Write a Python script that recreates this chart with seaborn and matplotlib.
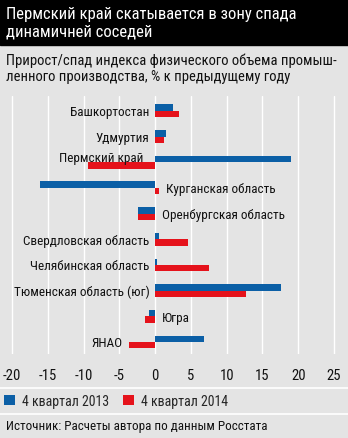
import matplotlib
matplotlib.use("Agg")
import matplotlib.pyplot as plt
from matplotlib import font_manager
import seaborn as sns
import pandas as pd

regions = ["Башкортостан", "Удмуртия", "Пермский край", "Курганская область",
           "Оренбургская область", "Свердловская область", "Челябинская область",
           "Тюменская область (юг)", "Югра", "ЯНАО"]
q4_2013 = [2.5, 1.5, 19.0, -16.1, -2.4, 0.5, 0.2, 17.6, -0.9, 6.8]
q4_2014 = [3.3, 1.2, -9.4, 0.5, -2.4, 4.6, 7.5, 12.7, -1.4, -3.6]
series_names = ["4 квартал 2013", "4 квартал 2014"]
x_ticks = [-20, -15, -10, -5, 0, 5, 10, 15, 20, 25]
title = "Пермский край скатывается в зону спада\nдинамичней соседей"
subtitle = "Прирост/спад индекса физического объема промыш-\nленного производства, % к предыдущему году"
source = "Источник: Расчеты автора по данным Росстата"

available = {f.name for f in font_manager.fontManager.ttflist}
narrow = None
for cand in ["Liberation Sans Narrow", "DejaVu Sans Condensed", "Roboto Condensed", "Open Sans Condensed"]:
    if cand in available:
        narrow = cand
        break
FAM = [narrow, "DejaVu Sans"] if narrow else ["DejaVu Sans"]

sns.set_style("white")
plt.rcParams["font.family"] = FAM

BG = "#e4e4e4"
BLUE = "#0b5fa6"
RED = "#e5121b"
W, H = 348, 439

df = pd.DataFrame({
    "region": regions * 2,
    "value": q4_2013 + q4_2014,
    "series": [series_names[0]] * len(regions) + [series_names[1]] * len(regions),
})

fig = plt.figure(figsize=(W / 100, H / 100), dpi=100, facecolor=BG)

def fx(px):
    return px / W

def fy(py):
    return 1 - py / H

# axes geometry
ax_top, ax_bot = 97, 355
ax = fig.add_axes([0, fy(ax_bot), 1, (ax_bot - ax_top) / H])
ax.set_facecolor(BG)

sns.barplot(data=df, y="region", x="value", hue="series", order=regions,
            hue_order=series_names, palette=[BLUE, RED], width=0.5,
            orient="h", ax=ax, saturation=1, edgecolor="none", errorbar=None)

ax.set_xlim(-21.68, 26.96)
ax.set_ylim(len(regions) - 0.53, -0.58)
for s in ax.spines.values():
    s.set_visible(False)
ax.set_xticks(x_ticks)
ax.set_xticklabels([str(t) for t in x_ticks])
ax.tick_params(axis="x", length=0, pad=10, labelsize=10.5, colors="#111111")
ax.set_yticks([])
ax.set_xlabel("")
ax.set_ylabel("")
for t in x_ticks:
    ax.axvline(t, color="white", lw=1.0, zorder=0)

# region labels
LFS = 9.5
for i, name in enumerate(regions):
    a, b = q4_2013[i], q4_2014[i]
    lo, hi = min(a, b), max(a, b)
    y = i
    if lo >= 0:
        ax.text(-0.8, y + 0.03, name, ha="right", va="center", fontsize=LFS, color="#111111")
    elif hi <= 0.6:
        ax.text(max(hi, 0) + 1.0, y + 0.03, name, ha="left", va="center", fontsize=LFS, color="#111111")
    elif a > 0 and abs(b) > 5:
        ax.text(-1.7, y - 0.17, name, ha="right", va="center", fontsize=LFS, color="#111111", zorder=5)
    else:
        ax.text(lo - 0.9, y + 0.03, name, ha="right", va="center", fontsize=LFS, color="#111111")

# legend
sns.move_legend(ax, loc="center left", bbox_to_anchor=(fx(4), fy(402)),
                bbox_transform=fig.transFigure, ncol=2, frameon=False, title=None,
                fontsize=10, handlelength=0.8, handleheight=0.8,
                handletextpad=0.5, columnspacing=1.0, borderpad=0, borderaxespad=0)

# header
fig.patches.append(plt.Rectangle((0, fy(46)), 1, 46 / H, transform=fig.transFigure,
                                 color="black", zorder=0))
fig.text(fx(6), fy(23), title, ha="left", va="center", color="white",
         fontsize=12, linespacing=1.2)
fig.text(fx(6), fy(69), subtitle, ha="left", va="center", color="#111111",
         fontsize=10.5, linespacing=1.2)

# separators
for py in (389, 415):
    fig.add_artist(plt.Line2D([0, 1], [fy(py), fy(py)], transform=fig.transFigure,
                              color="white", lw=1.2))
fig.text(fx(6), fy(427), source, ha="left", va="center", color="#111111", fontsize=9.4)

fig.savefig("out.png", dpi=100, facecolor=BG)
